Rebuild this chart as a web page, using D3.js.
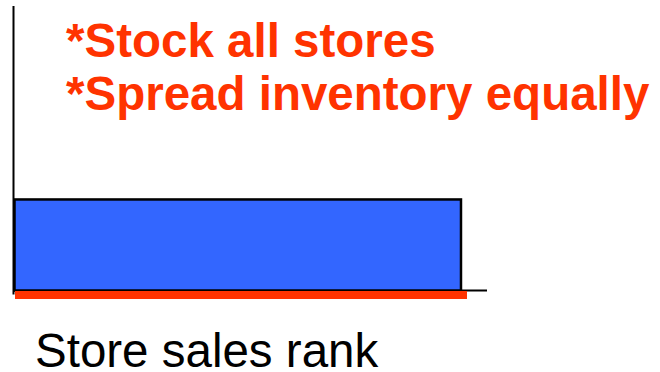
<!DOCTYPE html>
<html>
<head>
<meta charset="utf-8">
<script src="https://cdn.jsdelivr.net/npm/d3@7"></script>
<style>
  html, body { margin: 0; padding: 0; background: #fff; }
  svg { display: block; }
</style>
</head>
<body>
<svg id="chart" width="660" height="372"></svg>
<script>
// Inventory allocation: every store ranked by sales gets the same stock level
const storeGroups = ["All stores"];
const storeSpan = [0, 0.945];       // share of the rank axis covered by stocked stores
const inventoryLevel = [0.32];      // equal inventory per store
const notes = ["*Stock all stores", "*Spread inventory equally"];
const xTitle = "Store sales rank";

const svg = d3.select("#chart");
const x = d3.scaleLinear().domain([0, 1]).range([14, 487]);
const y = d3.scaleLinear().domain([0, 1]).range([290.5, 6]);

// Axes drawn as bare lines, no ticks
svg.append("line")
  .attr("x1", x(0) - 0.5).attr("x2", x(0) - 0.5)
  .attr("y1", y(1)).attr("y2", y(0) + 4)
  .attr("stroke", "#000").attr("stroke-width", 2);
svg.append("line")
  .attr("x1", x(0)).attr("x2", x(1))
  .attr("y1", y(0)).attr("y2", y(0))
  .attr("stroke", "#000").attr("stroke-width", 2);

// Inventory block
svg.selectAll("rect.inv").data(storeGroups).join("rect")
  .attr("class", "inv")
  .attr("x", x(storeSpan[0]) + 0.5)
  .attr("y", (d, i) => y(inventoryLevel[i]))
  .attr("width", x(storeSpan[1]) - x(storeSpan[0]) - 0.5)
  .attr("height", (d, i) => y(0) - y(inventoryLevel[i]))
  .attr("fill", "#3366ff")
  .attr("stroke", "#000").attr("stroke-width", 2.5);

// Red floor under the stocked stores
svg.append("rect")
  .attr("x", x(storeSpan[0]) + 1)
  .attr("y", y(0) + 0.5)
  .attr("width", x(storeSpan[1]) - x(storeSpan[0]) + 5)
  .attr("height", 8)
  .attr("fill", "#ff3300");

// Annotations
svg.selectAll("text.note").data(notes).join("text")
  .attr("class", "note")
  .attr("x", 66)
  .attr("y", (d, i) => 56.5 + i * 53)
  .attr("font-family", "Liberation Sans, Arial, sans-serif")
  .attr("font-weight", "bold")
  .attr("font-size", 47.5)
  .attr("fill", "#ff3300")
  .text(d => d);

svg.append("text")
  .attr("x", 35).attr("y", 366.5)
  .attr("font-family", "Liberation Sans, Arial, sans-serif")
  .attr("font-size", 47.5)
  .attr("fill", "#000")
  .text(xTitle);
</script>
</body>
</html>
